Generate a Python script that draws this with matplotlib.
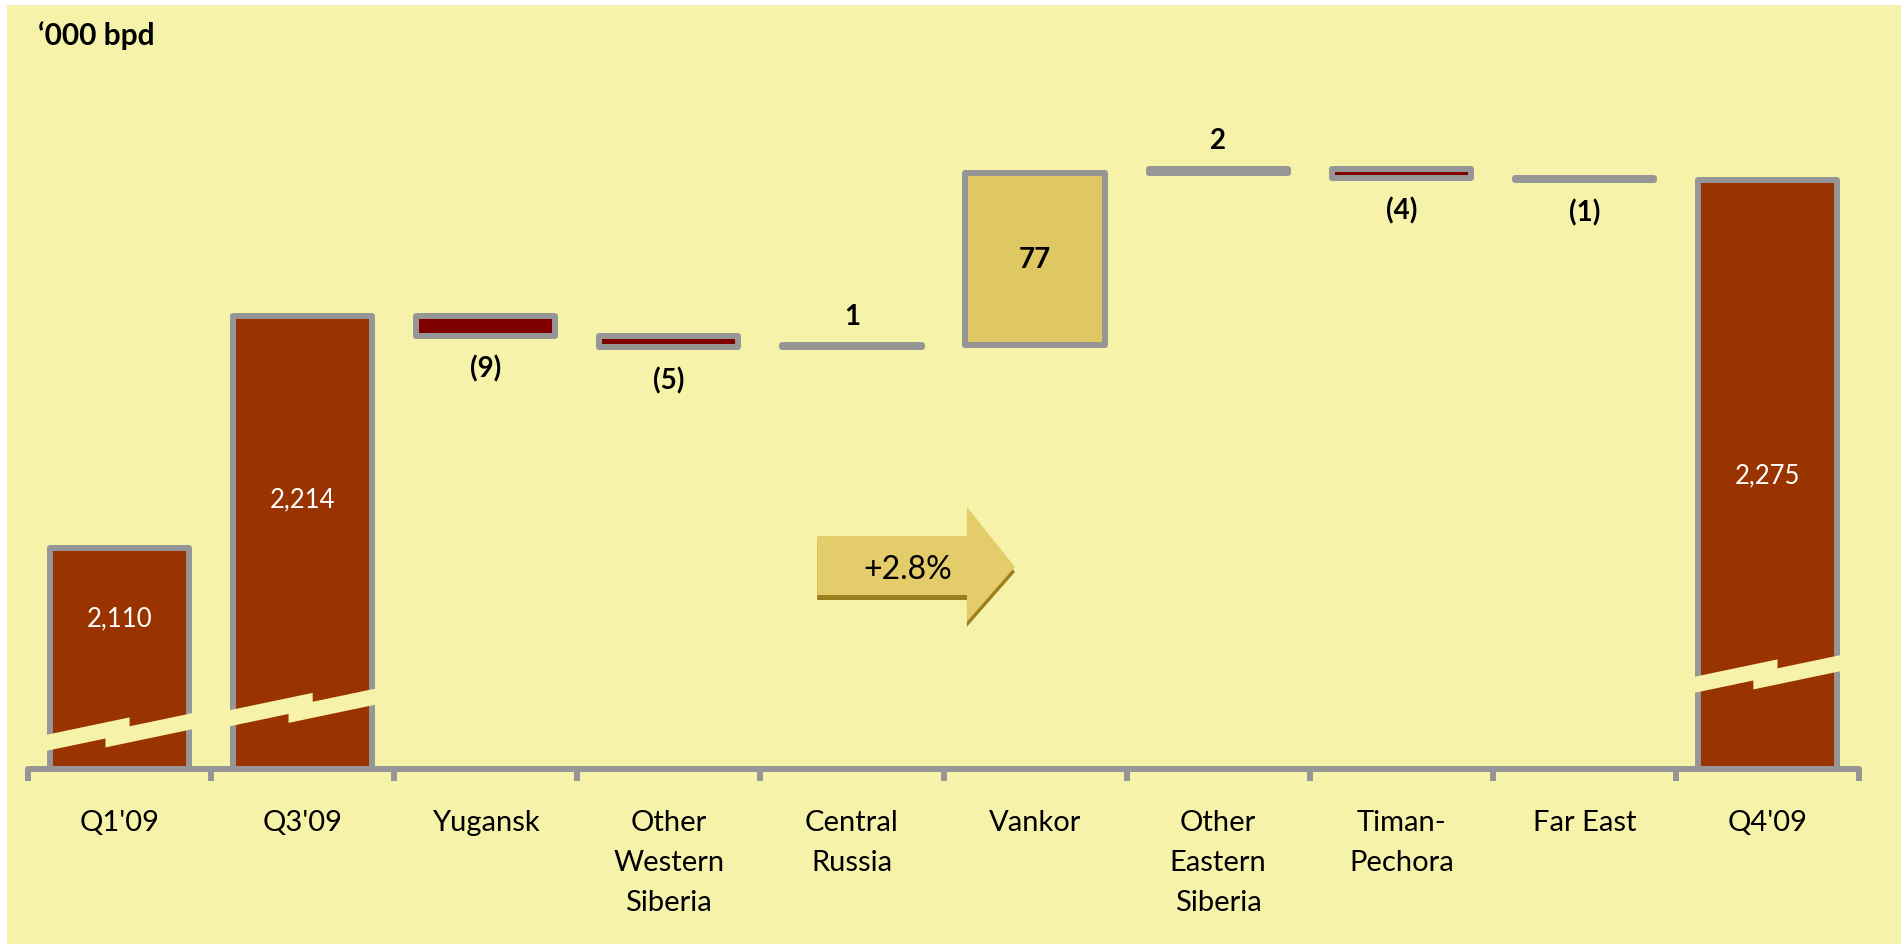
import numpy as np
import matplotlib
matplotlib.use('Agg')
import matplotlib.pyplot as plt
from matplotlib.patches import Polygon, Rectangle
from matplotlib import transforms

plt.rcParams['font.family'] = ['Lato', 'DejaVu Sans']

# 数据
categories = ["Q1'09", "Q3'09", "Yugansk", "Other\nWestern\nSiberia", "Central\nRussia",
              "Vankor", "Other\nEastern\nSiberia", "Timan-\nPechora", "Far East", "Q4'09"]
totals = {0: 2110, 1: 2214, 9: 2275}
deltas = [-9, -5, 1, 77, 2, -4, -1]
total_labels = ['2,110', '2,214', '2,275']
delta_labels = ['(9)', '(5)', '1', '77', '2', '(4)', '(1)']
growth_label = '+2.8%'

# 样式
bg = '#F7F2AA'
bar_col = '#993300'
neg_col = '#800000'
pos_col = '#DFC763'
edge = '#969696'
lw = 4.3
bar_w = 0.76
y_min, y_max = 2011, 2311.4

fig = plt.figure(figsize=(19.01, 9.45), dpi=100)
fig.patch.set_facecolor('white')
fig.patches.append(Rectangle((7 / 1901, 0), 1, 1 - 6 / 945, transform=fig.transFigure,
                             facecolor=bg, edgecolor='none', zorder=-10))

ax = fig.add_axes([28 / 1901, 175 / 945, (1859 - 28) / 1901, 670 / 945])
ax.set_facecolor('none')
ax.set_xlim(-0.5, 9.5)
ax.set_ylim(y_min, y_max)

x = np.arange(len(categories))

# 合计柱
for (i, v), lab, ly in zip(totals.items(), total_labels, [2079, 2132, 2143]):
    ax.bar(i, v - y_min, bottom=y_min, width=bar_w, color=bar_col, edgecolor=edge,
           linewidth=lw, joinstyle='round', zorder=3)
    ax.text(i, ly, lab, color='white', fontsize=18.5, ha='center', va='center', zorder=6)

# 变化柱
level = totals[1]
for k, (d, lab) in enumerate(zip(deltas, delta_labels)):
    i = k + 2
    lo, hi = min(level, level + d), max(level, level + d)
    fc = pos_col if d > 0 else neg_col
    ax.bar(i, hi - lo, bottom=lo, width=bar_w, color=fc, edgecolor=edge,
           linewidth=lw, joinstyle='round', zorder=3)
    if d >= 10:
        ax.text(i, (lo + hi) / 2, lab, fontsize=20, fontweight='bold', ha='center', va='center', zorder=6)
    elif d > 0:
        ax.annotate(lab, (i, hi), xytext=(0, 21), textcoords='offset points',
                    fontsize=20, fontweight='bold', ha='center', va='center', zorder=6)
    else:
        ax.annotate(lab, (i, lo), xytext=(0, -23), textcoords='offset points',
                    fontsize=20, fontweight='bold', ha='center', va='center', zorder=6)
    level += d

# 断轴闪电带
s, h, step, w = 17.2, 7.2, 4.0, 0.40
dxt, dxb = 0.055, -0.077
for i, yc in zip(totals.keys(), [2027.6, 2038.6, 2053.6]):
    a = yc + (h + step) / 2
    b = a - h
    pts = [(i - w, a - s * w), (i + dxt, a + s * dxt), (i + dxt, a + s * dxt - step),
           (i + w, a + s * w - step), (i + w, b + s * w - step), (i + dxb, b + s * dxb - step),
           (i + dxb, b + s * dxb), (i - w, b - s * w)]
    ax.add_patch(Polygon(pts, closed=True, facecolor=bg, edgecolor='none', zorder=4))

# 增长箭头
arrow = [(3.81, 2115.5), (4.628, 2115.5), (4.628, 2128.5), (4.89, 2101.6),
         (4.628, 2077.0), (4.628, 2089.0), (3.81, 2089.0)]
shadow_tr = transforms.offset_copy(ax.transData, fig=fig, x=0, y=-5, units='dots')
ax.add_patch(Polygon(arrow, closed=True, facecolor='#9C7F1C', edgecolor='none',
                     transform=shadow_tr, zorder=4))
ax.add_patch(Polygon(arrow, closed=True, facecolor='#E5CC6A', edgecolor='none', zorder=5))
ax.text(4.306, 2100.7, growth_label, fontsize=23, ha='center', va='center', zorder=6)

# 坐标轴
for sp in ['top', 'left', 'right']:
    ax.spines[sp].set_visible(False)
ax.spines['bottom'].set_color(edge)
ax.spines['bottom'].set_linewidth(lw)
ax.spines['bottom'].set_capstyle('round')
ax.spines['bottom'].set_zorder(5)
ax.set_yticks([])
ax.set_xticks(x)
ax.set_xticklabels(categories, fontsize=21, linespacing=1.66)
ax.set_xticks(np.arange(-0.5, 10, 1), minor=True)
ax.tick_params(axis='x', which='major', length=0, pad=29)
ax.tick_params(axis='x', which='minor', length=8.6, width=lw, color=edge, direction='out')

fig.text(38 / 1901, 1 - 36 / 945, '\u2018000 bpd', fontsize=21.5, fontweight='bold',
         ha='left', va='center')

fig.savefig('out.png', dpi=100, facecolor='white')
